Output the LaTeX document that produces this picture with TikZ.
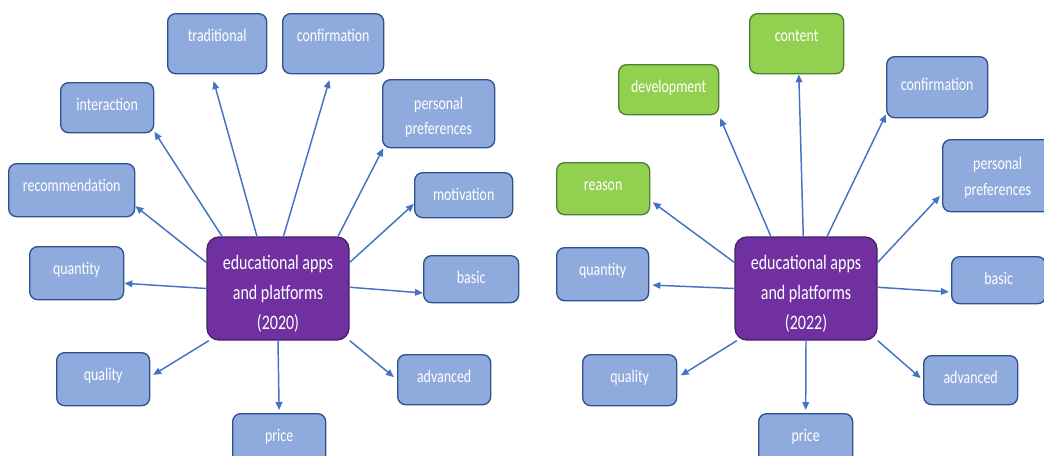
\documentclass[tikz,border=0pt]{standalone}
\usepackage{fontspec}
\setmainfont{Carlito}
\newfontfamily\boxfont{Carlito}[FakeStretch=0.78]
\usetikzlibrary{arrows.meta}

\definecolor{boxfill}{HTML}{8FAADC}
\definecolor{boxline}{HTML}{2F528F}
\definecolor{newfill}{HTML}{92D050}
\definecolor{newline}{HTML}{507E32}
\definecolor{hubfill}{HTML}{7030A0}
\definecolor{hubline}{HTML}{3E2468}
\definecolor{linkblue}{HTML}{4472C4}

\begin{document}
\begin{tikzpicture}[x=0.75pt,y=-0.75pt,
  box/.style={rectangle, rounded corners=6pt, draw=boxline, line width=1pt, fill=boxfill,
    text=white, font=\boxfont\fontsize{13.4}{18.75}\selectfont, align=center,
    anchor=north west, inner xsep=0pt, inner ysep=0pt, text height=20.75pt},
  newbox/.style={box, draw=newline, fill=newfill},
  hub/.style={rectangle, rounded corners=9pt, draw=hubline, line width=1pt, fill=hubfill,
    text=white, font=\boxfont\fontsize{15.4}{22.75}\selectfont, align=center,
    minimum width=106.5pt, minimum height=77.25pt, text height=62pt, text depth=0pt},
  link/.style={-{Triangle[length=6pt,width=5pt]}, draw=linkblue, line width=1.1pt}]

\clip (0,0) rectangle (1044,455);

%2020 map
\node[hub] (apps20) at (278,288.5) {educational apps\\and platforms\\(2020)};

\node[box, minimum width=74.25pt, text depth=24.25pt] (trad20)  at (167,13)  {traditional};
\node[box, minimum width=75.75pt, text depth=24.25pt] (conf20)  at (282,13)  {confirmation};
\node[box, minimum width=69.75pt, text depth=16.75pt] (inter20) at (60,82)   {interaction};
\node[box, minimum width=84pt, text height=41.25pt, text depth=9.75pt] (pref20) at (382,79) {personal\\preferences};
\node[box, minimum width=94.5pt, text depth=19pt]     (recom20) at (8,163)   {recommendation};
\node[box, minimum width=73.5pt, text depth=13pt]     (motiv20) at (414,172) {motivation};
\node[box, minimum width=70.5pt, text depth=19pt]     (quant20) at (29,246)  {quantity};
\node[box, minimum width=71.25pt, text depth=14.5pt]  (basic20) at (423,255) {basic};
\node[box, minimum width=69.75pt, text depth=19pt]    (qual20)  at (56,352)  {quality};
\node[box, minimum width=69.75pt, text depth=16.75pt] (adv20)   at (397,354) {advanced};
\node[box, minimum width=69.75pt, text depth=16.75pt] (price20) at (232,413) {price};

% arrows out of the hub: hub side / box / box side / gap
\foreach \hs/\nm/\ts/\gap in {112/trad/-100/5.25pt, 84.5/conf/-94/4.5pt, 137/inter/-27/0pt,
    41/pref/-148/0pt, 20/motiv/-170/0pt, 1/basic/-164/0pt, -36/adv/180/3pt,
    -90/price/90/2.25pt, -143/qual/3/2.5pt, 180/quant/-12/0pt, 160/recom/-14/0pt}
  \draw[link, shorten >=\gap] (apps20.\hs) -- (\nm20.\ts);

%2022 map
\node[hub] (apps22) at (806,288.5) {educational apps\\and platforms\\(2022)};

\node[newbox, minimum width=70.5pt, text depth=24.25pt]  (cont22)   at (749,13)  {content};
\node[newbox, minimum width=75pt, text depth=16.75pt]    (devel22)  at (618,64)  {development};
\node[newbox, minimum width=69.75pt, text depth=18.25pt] (reason22) at (556,162) {reason};
\node[box, minimum width=75.75pt, text height=25.25pt, text depth=20.5pt] (conf22) at (886,56) {confirmation};
\node[box, minimum width=82.5pt, font=\boxfont\fontsize{13.4}{19.5}\selectfont,
  text height=42pt, text depth=12pt] (pref22) at (942,139) {personal\\preferences};
\node[box, minimum width=69pt, text depth=19pt]       (quant22) at (556,247) {quantity};
\node[box, minimum width=70.5pt, text depth=14.5pt]   (basic22) at (951,256) {basic};
\node[box, minimum width=70.5pt, text depth=17.5pt]   (qual22)  at (582,354) {quality};
\node[box, minimum width=70.5pt, text depth=16pt]     (adv22)   at (923,355) {advanced};
\node[box, minimum width=70.5pt, text depth=16.75pt]  (price22) at (758,413) {price};

\foreach \hs/\nm/\ts/\gap in {93/cont/-86/0pt, 124/devel/-27/2.25pt, 160/reason/-14/2.25pt,
    180/quant/-13/2.25pt, -143/qual/3/3pt, -90/price/90/2.25pt, -36/adv/180/2.25pt,
    1/basic/-166/1.5pt, 20/pref/-162/2.25pt, 68/conf/-152/0pt}
  \draw[link, shorten >=\gap] (apps22.\hs) -- (\nm22.\ts);

\end{tikzpicture}
\end{document}
